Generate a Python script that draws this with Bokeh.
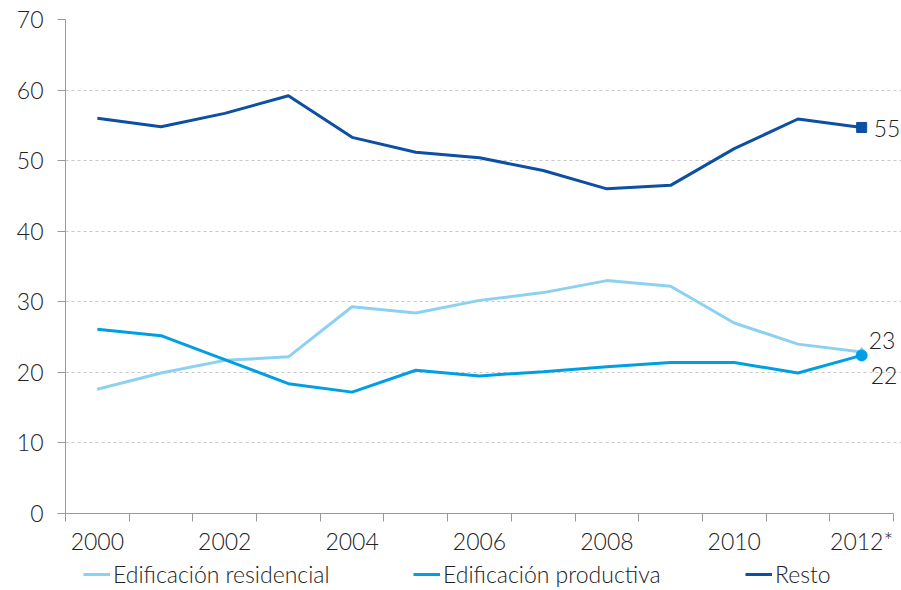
from bokeh.plotting import figure
from bokeh.layouts import column
from bokeh.models import Range1d, FixedTicker, Legend, LegendItem, Label
from bokeh.embed import file_html
from bokeh.resources import INLINE

# Shares by segment (%), 2000-2012*
years = ["2000", "2001", "2002", "2003", "2004", "2005", "2006",
         "2007", "2008", "2009", "2010", "2011", "2012*"]
residencial = [17.6, 19.9, 21.7, 22.2, 29.3, 28.4, 30.2, 31.3, 33.0, 32.2, 27.0, 24.0, 22.9]
productiva = [26.1, 25.2, 21.8, 18.4, 17.2, 20.3, 19.5, 20.1, 20.8, 21.4, 21.4, 19.9, 22.4]
resto = [56.0, 54.8, 56.7, 59.2, 53.3, 51.2, 50.4, 48.6, 46.0, 46.5, 51.7, 55.9, 54.7]
series_names = ["Edificación residencial", "Edificación productiva", "Resto"]
y_ticks = [0, 10, 20, 30, 40, 50, 60, 70]

FONT = "Lato Light"
FSIZE = "23px"
TEXT = "#222222"
AXIS = "#999999"
C_RES = "#8DD1F1"
C_PROD = "#009FE3"
C_RESTO = "#0D4FA2"
LW = 3

n = len(years)
xs = [i + 0.5 for i in range(n)]

# frame runs past the last category so the end labels have room
p = figure(width=901, height=560, output_backend="svg", toolbar_location=None,
           x_range=Range1d(0, n * 836 / 828), y_range=Range1d(0, 70),
           min_border_left=65, min_border_right=0, min_border_top=19,
           min_border_bottom=47)
p.outline_line_color = None
p.background_fill_color = "white"
p.border_fill_color = "white"

# x axis: tick marks on category boundaries, labels every other year
xa = p.xaxis[0]
label_pos = xs[::2]
xa.ticker = FixedTicker(ticks=label_pos, minor_ticks=list(range(n + 1)))
xa.major_label_overrides = {x: years[i * 2] for i, x in enumerate(label_pos)}
xa.bounds = (0, n)
xa.major_tick_line_color = None
xa.major_tick_out = 8
xa.minor_tick_line_color = AXIS
xa.minor_tick_out = 8
xa.minor_tick_in = 0
xa.axis_line_color = AXIS
xa.major_label_standoff = 5
xa.major_label_text_font = FONT
xa.major_label_text_font_size = FSIZE
xa.major_label_text_color = TEXT

ya = p.yaxis[0]
ya.ticker = FixedTicker(ticks=y_ticks)
ya.major_tick_line_color = AXIS
ya.major_tick_out = 8
ya.major_tick_in = 0
ya.minor_tick_line_color = None
ya.axis_line_color = AXIS
ya.major_label_standoff = 14
ya.major_label_text_font = FONT
ya.major_label_text_font_size = FSIZE
ya.major_label_text_color = TEXT

p.xgrid.grid_line_color = None
p.ygrid.ticker = FixedTicker(ticks=y_ticks[1:])
p.ygrid.bounds = (0, n)
p.ygrid.grid_line_color = "#c8c8c8"
p.ygrid.grid_line_dash = "3 3"

p.line(xs, residencial, line_color=C_RES, line_width=LW)
p.line(xs, productiva, line_color=C_PROD, line_width=LW)
p.line(xs, resto, line_color=C_RESTO, line_width=LW)

# end-of-series markers
p.scatter([xs[-1]], [residencial[-1]], marker="triangle", size=8, color=C_RES)
p.scatter([xs[-1]], [productiva[-1]], marker="circle", size=11, color=C_PROD)
p.scatter([xs[-1]], [resto[-1]], marker="square", size=10, color=C_RESTO)

for val, dx, dy in ((resto[-1], 12, -1), (residencial[-1], 7, 11), (productiva[-1], 9, -20)):
    p.add_layout(Label(x=xs[-1], y=val, text=f"{val:.0f}", x_offset=dx, y_offset=dy,
                       text_font=FONT, text_font_size=FSIZE, text_color=TEXT,
                       text_baseline="middle", text_align="left"))

# legend strip under the chart
lg = figure(width=901, height=30, output_backend="svg", toolbar_location=None,
            x_range=Range1d(0, 1), y_range=Range1d(0, 1),
            min_border=0, x_axis_type=None, y_axis_type=None)
lg.outline_line_color = None
lg.grid.grid_line_color = None
lg.background_fill_color = "white"
lg.border_fill_color = "white"
for name, color, left in zip(series_names, (C_RES, C_PROD, C_RESTO), (83, 413, 745)):
    r = lg.line([-5, -4], [-5, -4], line_color=color, line_width=LW)
    lg.add_layout(Legend(items=[LegendItem(label=name, renderers=[r])],
                         location=(left - 65, 2), border_line_color=None,
                         background_fill_alpha=0, label_text_font=FONT,
                         label_text_font_size=FSIZE, label_text_color=TEXT,
                         glyph_width=27, label_standoff=3, padding=0, margin=0,
                         label_height=22, glyph_height=22), "center")

open("out.html", "w").write(file_html(column(p, lg, spacing=0), INLINE))
